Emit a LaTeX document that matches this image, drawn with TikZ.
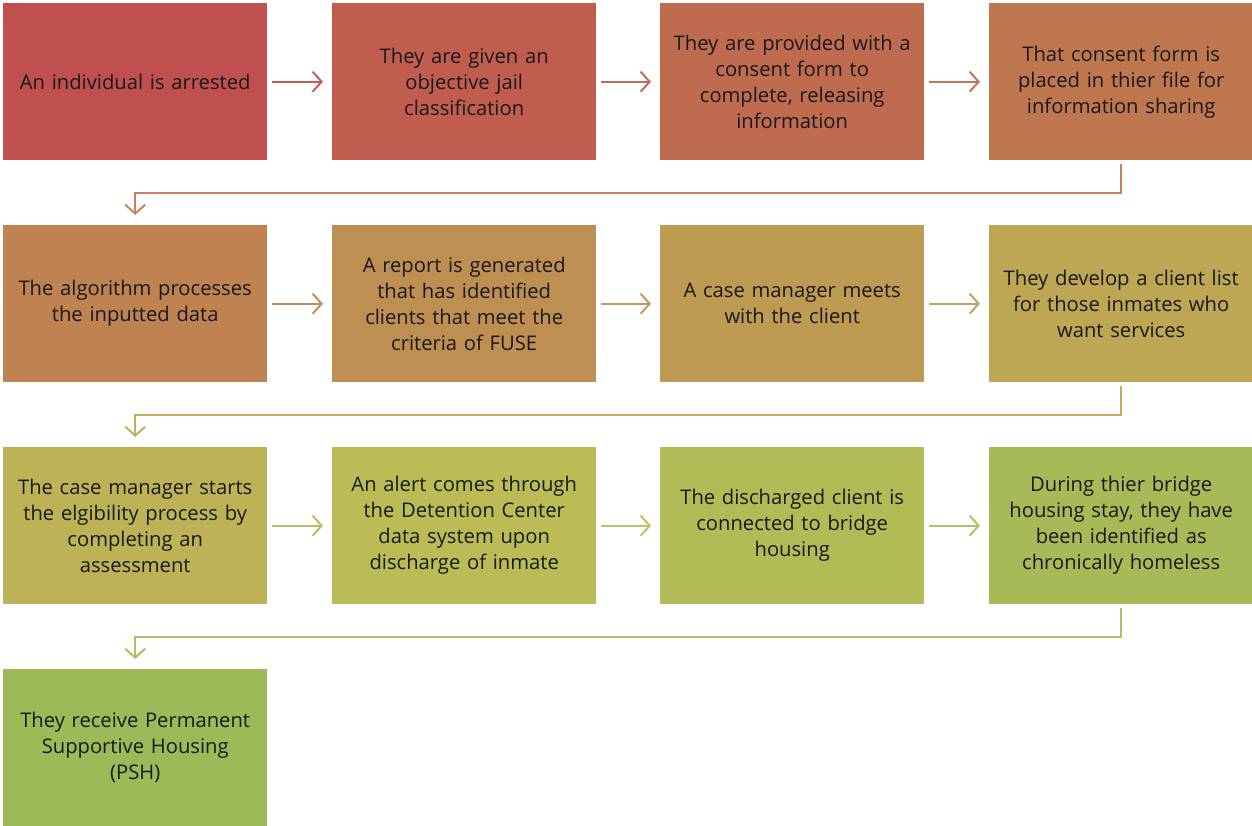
\documentclass[tikz,border=0pt]{standalone}
\usepackage{fontspec}
\setmainfont{Open Sans}
\usetikzlibrary{arrows.meta}

% step colours: hue runs from red to green across the thirteen steps
\definecolor{s1}{RGB}{192,80,77}
\definecolor{s2}{RGB}{192,93,78}
\definecolor{s3}{RGB}{191,107,79}
\definecolor{s4}{RGB}{191,119,80}
\definecolor{s5}{RGB}{190,131,81}
\definecolor{s6}{RGB}{190,143,82}
\definecolor{s7}{RGB}{189,155,83}
\definecolor{s8}{RGB}{189,166,84}
\definecolor{s9}{RGB}{189,178,85}
\definecolor{s10}{RGB}{188,188,86}
\definecolor{s11}{RGB}{177,188,87}
\definecolor{s12}{RGB}{166,187,88}
\definecolor{s13}{RGB}{155,187,89}

\tikzset{
  stepbox/.style={rectangle, anchor=north west, inner sep=0pt, draw=none,
    minimum width=264pt, minimum height=157pt, text width=260pt, align=center,
    text=black!90, font=\fontsize{20.2}{26}\selectfont},
  flow/.style={line width=2pt, draw=#1, -{Straight Barb[length=9pt,width=20pt,line width=2pt]}},
}

\begin{document}
\begin{tikzpicture}[x=1pt,y=-1pt]
\useasboundingbox (0,0) rectangle (1252,825);

% row 1
\node[stepbox, fill=s1] (n1) at (3,3) {An individual is arrested};
\node[stepbox, fill=s2] (n2) at (332,3) {They are given an\\objective jail\\classification};
\node[stepbox, fill=s3] (n3) at (660,3) {They are provided with a\\consent form to\\complete, releasing\\information};
\node[stepbox, fill=s4] (n4) at (989,3) {That consent form is\\placed in thier file for\\information sharing};
% row 2
\node[stepbox, fill=s5] (n5) at (3,225) {The algorithm processes\\the inputted data};
\node[stepbox, fill=s6] (n6) at (332,225) {A report is generated\\that has identified\\clients that meet the\\criteria of FUSE};
\node[stepbox, fill=s7] (n7) at (660,225) {A case manager meets\\with the client};
\node[stepbox, fill=s8] (n8) at (989,225) {They develop a client list\\for those inmates who\\want services};
% row 3
\node[stepbox, fill=s9] (n9) at (3,447) {The case manager starts\\the elgibility process by\\completing an\\assessment};
\node[stepbox, fill=s10] (n10) at (332,447) {An alert comes through\\the Detention Center\\data system upon\\discharge of inmate};
\node[stepbox, fill=s11] (n11) at (660,447) {The discharged client is\\connected to bridge\\housing};
\node[stepbox, fill=s12] (n12) at (989,447) {During thier bridge\\housing stay, they have\\been identified as\\chronically homeless};
% row 4
\node[stepbox, fill=s13] (n13) at (3,669) {They receive Permanent\\Supportive Housing\\(PSH)};

% arrows within each row
\foreach \a/\b/\c in {n1/n2/s1, n2/n3/s2, n3/n4/s3,
                      n5/n6/s5, n6/n7/s6, n7/n8/s7,
                      n9/n10/s9, n10/n11/s10, n11/n12/s11}
  \draw[flow=\c!92!white] ([xshift=5pt]\a.east) -- ([xshift=-9pt]\b.west);

% elbow connectors from the end of one row to the start of the next
\foreach \a/\b/\c in {n4/n5/s4, n8/n9/s8, n12/n13/s12}
  \draw[flow=\c!92!white] ([yshift=-4pt]\a.south) -- ++(0,29)
    -| ([yshift=10pt]\b.north);

\end{tikzpicture}
\end{document}
